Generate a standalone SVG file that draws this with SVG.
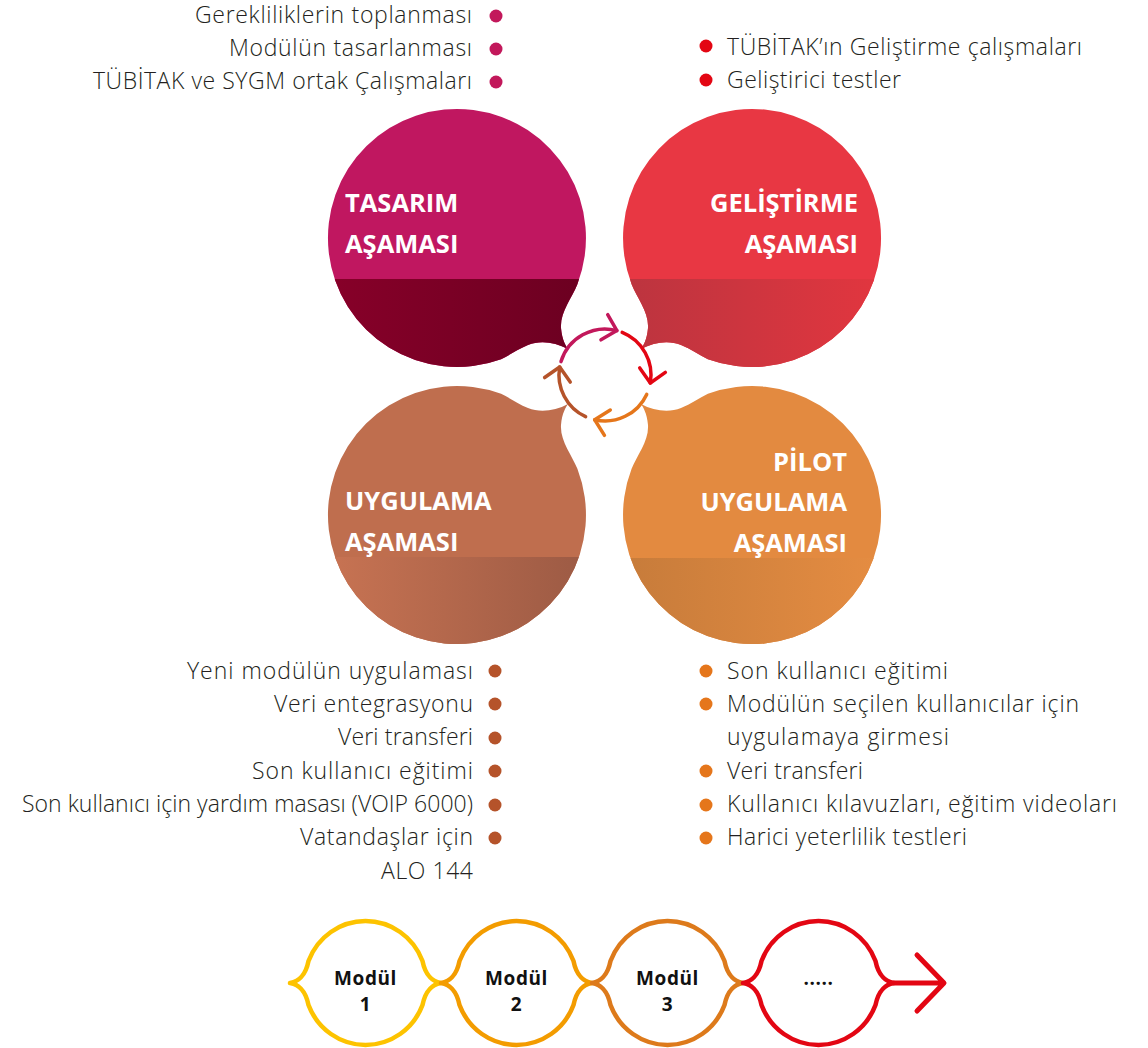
<svg xmlns="http://www.w3.org/2000/svg" width="1148" height="1048" viewBox="0 0 1148 1048">
<style>
.title{font-family:"Open Sans","Noto Sans",sans-serif;font-weight:700;font-size:25.5px;fill:#fff}
.li{font-family:"Open Sans","Noto Sans",sans-serif;font-weight:300;font-size:23px;fill:#231f20}
.r{text-anchor:end}
.mod{font-family:"Open Sans","Noto Sans",sans-serif;font-weight:700;font-size:19px;letter-spacing:0.6px;fill:#111;text-anchor:middle}
.arc{fill:none;stroke-width:3.5;stroke-linecap:round}
.chain{fill:none;stroke-width:4.5;stroke-linejoin:round}
</style>
<defs>
<path id="pTL" d="M577.4,284.2 C572,298 560,312 561,328 C562,340 566,346 568,349 C555,342 540,340 528,345 C518,349 510,355 501.1,359.2 A129,129 0 1 1 577.4,284.2 Z"/>
<path id="pTR" d="M631.6,284.2 C637,298 649,312 648,328 C647,340 643,346 641,349 C654,342 669,340 681,345 C691,349 699,355 707.9,359.2 A129,129 0 1 0 631.6,284.2 Z"/>
<path id="pBL" d="M577.4,468.8 C572,455 560,441 561,425 C562,413 566,407 568,404 C555,411 540,413 528,408 C518,404 510,398 501.1,393.8 A129,129 0 1 0 577.4,468.8 Z"/>
<path id="pBR" d="M631.6,468.8 C637,455 649,441 648,425 C647,413 643,407 641,404 C654,411 669,413 681,408 C691,404 699,398 707.9,393.8 A129,129 0 1 1 631.6,468.8 Z"/>
<clipPath id="cTL"><use href="#pTL"/></clipPath>
<clipPath id="cTR"><use href="#pTR"/></clipPath>
<clipPath id="cBL"><use href="#pBL"/></clipPath>
<clipPath id="cBR"><use href="#pBR"/></clipPath>
<linearGradient id="gTL" x1="0" y1="0" x2="1" y2="0"><stop offset="0" stop-color="#880029"/><stop offset="1" stop-color="#690020"/></linearGradient>
<linearGradient id="gTR" x1="0" y1="0" x2="1" y2="0"><stop offset="0" stop-color="#b8343f"/><stop offset="1" stop-color="#e3363f"/></linearGradient>
<linearGradient id="gBL" x1="0" y1="0" x2="1" y2="0"><stop offset="0" stop-color="#c97453"/><stop offset="1" stop-color="#985843"/></linearGradient>
<linearGradient id="gBR" x1="0" y1="0" x2="1" y2="0"><stop offset="0" stop-color="#c47a3a"/><stop offset="1" stop-color="#e68d42"/></linearGradient>
<marker id="mMag" markerUnits="userSpaceOnUse" viewBox="-17 -17 34 34" markerWidth="34" markerHeight="34" refX="0" refY="0" orient="auto"><path d="M-13,-13 L0,0 L-13,13" fill="none" stroke="#c2185b" stroke-width="3.5" stroke-linecap="round" stroke-linejoin="round"/></marker>
<marker id="mRed" markerUnits="userSpaceOnUse" viewBox="-17 -17 34 34" markerWidth="34" markerHeight="34" refX="0" refY="0" orient="auto"><path d="M-13,-13 L0,0 L-13,13" fill="none" stroke="#e30613" stroke-width="3.5" stroke-linecap="round" stroke-linejoin="round"/></marker>
<marker id="mOra" markerUnits="userSpaceOnUse" viewBox="-17 -17 34 34" markerWidth="34" markerHeight="34" refX="0" refY="0" orient="auto"><path d="M-13,-13 L0,0 L-13,13" fill="none" stroke="#e5761b" stroke-width="3.5" stroke-linecap="round" stroke-linejoin="round"/></marker>
<marker id="mBro" markerUnits="userSpaceOnUse" viewBox="-17 -17 34 34" markerWidth="34" markerHeight="34" refX="0" refY="0" orient="auto"><path d="M-13,-13 L0,0 L-13,13" fill="none" stroke="#b5532a" stroke-width="3.5" stroke-linecap="round" stroke-linejoin="round"/></marker>
</defs>
<rect width="1148" height="1048" fill="#fff"/>

<g id="node-tasarim">
<use href="#pTL" fill="#c01760"/>
<rect x="320" y="279" width="290" height="100" fill="url(#gTL)" clip-path="url(#cTL)"/>
<text class="title" x="345" y="212">TASARIM</text>
<text class="title" x="345" y="253">AŞAMASI</text>
</g>
<g id="node-gelistirme">
<use href="#pTR" fill="#e83743"/>
<rect x="600" y="279" width="290" height="100" fill="url(#gTR)" clip-path="url(#cTR)"/>
<text class="title r" x="858" y="212">GELİŞTİRME</text>
<text class="title r" x="858" y="253">AŞAMASI</text>
</g>
<g id="node-uygulama">
<use href="#pBL" fill="#bf6e4e"/>
<rect x="320" y="557" width="290" height="100" fill="url(#gBL)" clip-path="url(#cBL)"/>
<text class="title" x="345" y="510">UYGULAMA</text>
<text class="title" x="345" y="551">AŞAMASI</text>
</g>
<g id="node-pilot">
<use href="#pBR" fill="#e38a40"/>
<rect x="600" y="558" width="290" height="100" fill="url(#gBR)" clip-path="url(#cBR)"/>
<text class="title r" x="847" y="471">PİLOT</text>
<text class="title r" x="847" y="511">UYGULAMA</text>
<text class="title r" x="847" y="552">AŞAMASI</text>
</g>

<g id="list-tasarim">
<text class="li r" x="472" y="23" textLength="277">Gerekliliklerin toplanması</text>
<text class="li r" x="472" y="56" textLength="243">Modülün tasarlanması</text>
<text class="li r" x="472" y="89" textLength="379">TÜBİTAK ve SYGM ortak Çalışmaları</text>
<g fill="#c2185b"><circle cx="496" cy="16" r="6.5"/><circle cx="496" cy="49" r="6.5"/><circle cx="496" cy="82" r="6.5"/></g>
</g>
<g id="list-gelistirme">
<g fill="#e30613"><circle cx="706" cy="46" r="6.5"/><circle cx="706" cy="80" r="6.5"/></g>
<text class="li" x="727" y="55" textLength="355">TÜBİTAK’ın Geliştirme çalışmaları</text>
<text class="li" x="727" y="88" textLength="174">Geliştirici testler</text>
</g>
<g id="list-uygulama">
<text class="li r" x="473" y="679" textLength="286">Yeni modülün uygulaması</text>
<text class="li r" x="473" y="712" textLength="199">Veri entegrasyonu</text>
<text class="li r" x="473" y="745" textLength="135">Veri transferi</text>
<text class="li r" x="473" y="779" textLength="221">Son kullanıcı eğitimi</text>
<text class="li r" x="473" y="812" textLength="451">Son kullanıcı için yardım masası (VOIP 6000)</text>
<text class="li r" x="473" y="845" textLength="173">Vatandaşlar için</text>
<text class="li r" x="473" y="879" textLength="92">ALO 144</text>
<g fill="#b5532a"><circle cx="495" cy="671" r="6.5"/><circle cx="495" cy="704" r="6.5"/><circle cx="495" cy="738" r="6.5"/><circle cx="495" cy="771" r="6.5"/><circle cx="495" cy="805" r="6.5"/><circle cx="495" cy="838" r="6.5"/></g>
</g>
<g id="list-pilot">
<g fill="#e5761b"><circle cx="706" cy="671" r="6.5"/><circle cx="706" cy="704" r="6.5"/><circle cx="706" cy="771" r="6.5"/><circle cx="706" cy="805" r="6.5"/><circle cx="706" cy="838" r="6.5"/></g>
<text class="li" x="727" y="679" textLength="221">Son kullanıcı eğitimi</text>
<text class="li" x="727" y="712" textLength="352">Modülün seçilen kullanıcılar için</text>
<text class="li" x="727" y="745" textLength="222">uygulamaya girmesi</text>
<text class="li" x="727" y="779" textLength="136">Veri transferi</text>
<text class="li" x="727" y="812" textLength="390">Kullanıcı kılavuzları, eğitim videoları</text>
<text class="li" x="727" y="845" textLength="240">Harici yeterlilik testleri</text>
</g>

<g id="connectors">
<path class="arc" stroke="#c2185b" marker-end="url(#mMag)" d="M561,361.6 A46,46 0 0 1 616.9,330.6"/>
<path class="arc" stroke="#e30613" marker-end="url(#mRed)" d="M622.2,332.4 A46,46 0 0 1 650.3,383"/>
<path class="arc" stroke="#e5761b" marker-end="url(#mOra)" d="M646.7,394.4 A46,46 0 0 1 594.7,419.8"/>
<path class="arc" stroke="#b5532a" marker-end="url(#mBro)" d="M585.6,416.7 A46,46 0 0 1 559.7,367"/>
<path fill="none" stroke="#e30613" stroke-width="5" stroke-linecap="round" stroke-linejoin="round" d="M894,983 L943,983 M917,955 L944,983 L917,1011"/>
</g>

<g id="module-1">
<path class="chain" stroke="#fdc300" d="M290,983 C297.5,982 305.5,976 308.5,961 A61,62 0 0 1 422.5,961 C425.5,976 433.5,982 441,983 C433.5,984 425.5,990 422.5,1005 A61,62 0 0 1 308.5,1005 C305.5,990 297.5,984 290,983 Z"/>
<text class="mod" x="365.5" y="985">Modül</text>
<text class="mod" x="365.5" y="1011">1</text>
</g>
<g id="module-2">
<path class="chain" stroke="#f39c00" d="M441,983 C448.5,982 456.5,976 459.5,961 A61,62 0 0 1 573.5,961 C576.5,976 584.5,982 592,983 C584.5,984 576.5,990 573.5,1005 A61,62 0 0 1 459.5,1005 C456.5,990 448.5,984 441,983 Z"/>
<text class="mod" x="516.5" y="985">Modül</text>
<text class="mod" x="516.5" y="1011">2</text>
</g>
<g id="module-3">
<path class="chain" stroke="#dd7a1b" d="M592,983 C599.5,982 607.5,976 610.5,961 A61,62 0 0 1 724.5,961 C727.5,976 735.5,982 743,983 C735.5,984 727.5,990 724.5,1005 A61,62 0 0 1 610.5,1005 C607.5,990 599.5,984 592,983 Z"/>
<text class="mod" x="667.5" y="985">Modül</text>
<text class="mod" x="667.5" y="1011">3</text>
</g>
<g id="module-4">
<path class="chain" stroke="#e30613" d="M743,983 C750.5,982 758.5,976 761.5,961 A61,62 0 0 1 875.5,961 C878.5,976 886.5,982 894,983 C886.5,984 878.5,990 875.5,1005 A61,62 0 0 1 761.5,1005 C758.5,990 750.5,984 743,983 Z"/>
<text class="mod" x="818.5" y="985">.....</text>
</g>
</svg>
